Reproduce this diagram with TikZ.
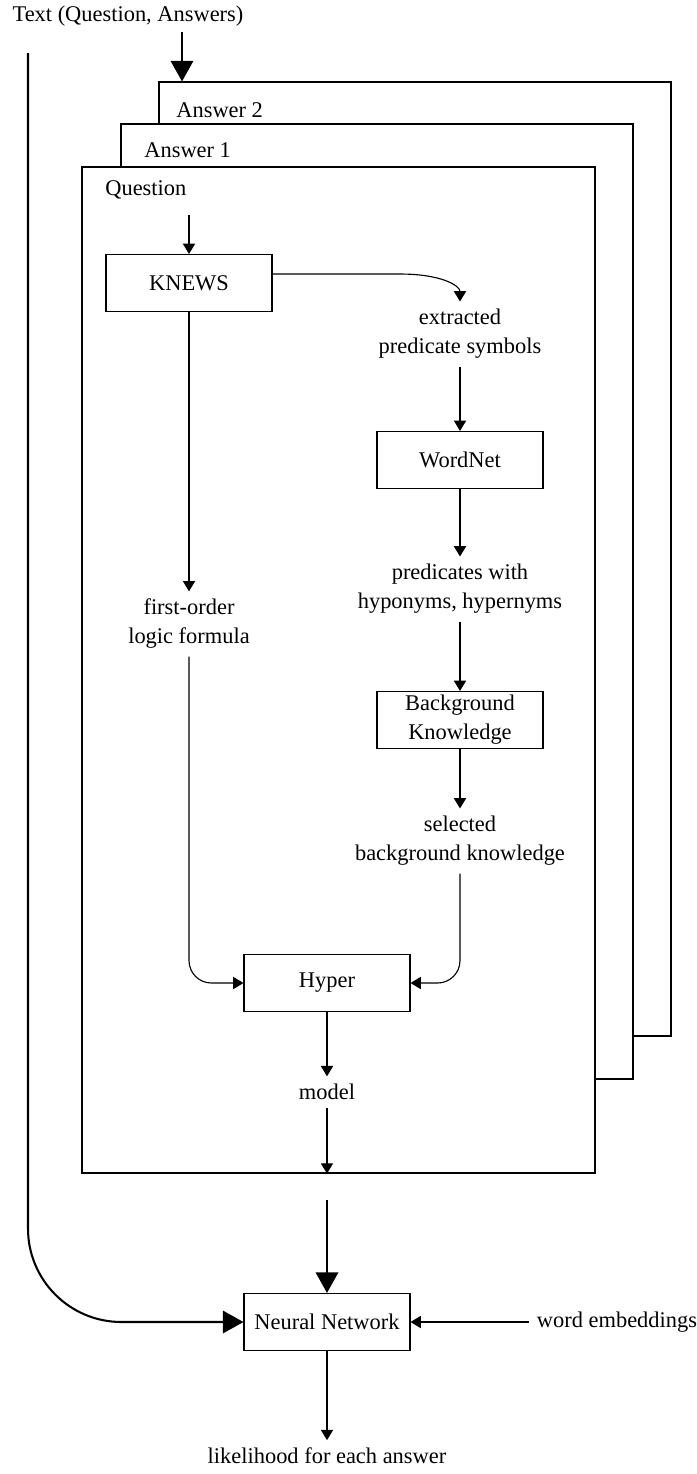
\documentclass[tikz,border=0pt]{standalone}
\usepackage{fontspec}
\setmainfont{Liberation Serif}
\usetikzlibrary{arrows.meta,positioning,fit}

\tikzset{
  box/.style={draw, fill=white, minimum width=88.8pt, minimum height=30.5pt, inner sep=1pt, align=center, line width=0.6pt},
  frame/.style={draw, fill=white, inner sep=0pt, line width=0.6pt},
  txt/.style={align=center, inner sep=4pt},
  arr/.style={-{Triangle[length=5.5pt,width=6.5pt]}, line width=0.6pt},
  bigarr/.style={-{Triangle[length=11pt,width=12pt]}, line width=1.1pt}
}

\begin{document}
\begin{tikzpicture}[x=0.535pt, y=-0.535pt, font=\fontsize{12}{15.5}\selectfont]
\useasboundingbox (0,0) rectangle (697,1474);

% stacked frames, back to front
\node[frame, fit={(159,82) (671,1036)}] (ans2) {};
\node[frame, fit={(121,124) (633,1079)}] (ans1) {};
\node[frame, fit={(82,167) (595,1173)}] (quest) {};

\node(ans2lab)[anchor=west, inner sep=0pt] at (176,110) {Answer 2};
\node(ans1lab)[anchor=west, inner sep=0pt] at (144,150) {Answer 1};
\node(questlab)[anchor=west, inner sep=0pt] at (105,190) {Question};

\node(input) at (128,16) {Text (Question, Answers)};

\node(knews)[box] at (189,283) {KNEWS};
\node(extr)[txt] at (460,334) {extracted\\predicate symbols};
\node(wordnet)[box] at (460,460) {WordNet};
\node(hypo)[txt] at (460,589) {predicates with\\hyponyms, hypernyms};
\node(bk)[box] at (460,720) {Background\\Knowledge};
\node(sel)[txt] at (460,841) {selected\\background knowledge};
\node(fol)[txt] at (189,624) {first-order\\logic formula};
\node(hyper)[box] at (327,983) {Hyper};
\node(model)[txt] at (327,1092) {model};

\node(nn)[box] at (327,1322) {Neural Network};
\node(emb)[txt] at (617,1322) {word embeddings};
\node(out)[txt] at (327,1456) {likelihood for each answer};

\coordinate (split) at (182,32);
\coordinate (side) at (28,53);
\coordinate (qin) at (189,215);
\coordinate (merge) at (327,1200);

\draw[bigarr] (split)--(split |- ans2.north);
\draw[bigarr, rounded corners=50pt] (side) |- (nn.west);
\draw[arr] (qin)--(knews);

\draw[arr] ([yshift=4.8pt]knews.east) -- ++(128,0) .. controls +(40,0) and +(0,-16) .. (extr.north);
\foreach \a/\b in {extr/wordnet, wordnet/hypo, hypo/bk, bk/sel, hyper/model}
	\draw[arr](\a)--(\b);
\draw[arr] (knews)--(knews |- fol.north);

\draw[arr, rounded corners=12pt] (fol.south) |- (hyper.west);
\draw[arr, rounded corners=12pt] (sel.south) |- (hyper.east);
\draw[arr] (model)--(model |- quest.south);

\draw[bigarr] (merge)--(nn);
\draw[arr] (emb)--(nn);
\draw[arr] (nn)--(out);

\end{tikzpicture}
\end{document}
